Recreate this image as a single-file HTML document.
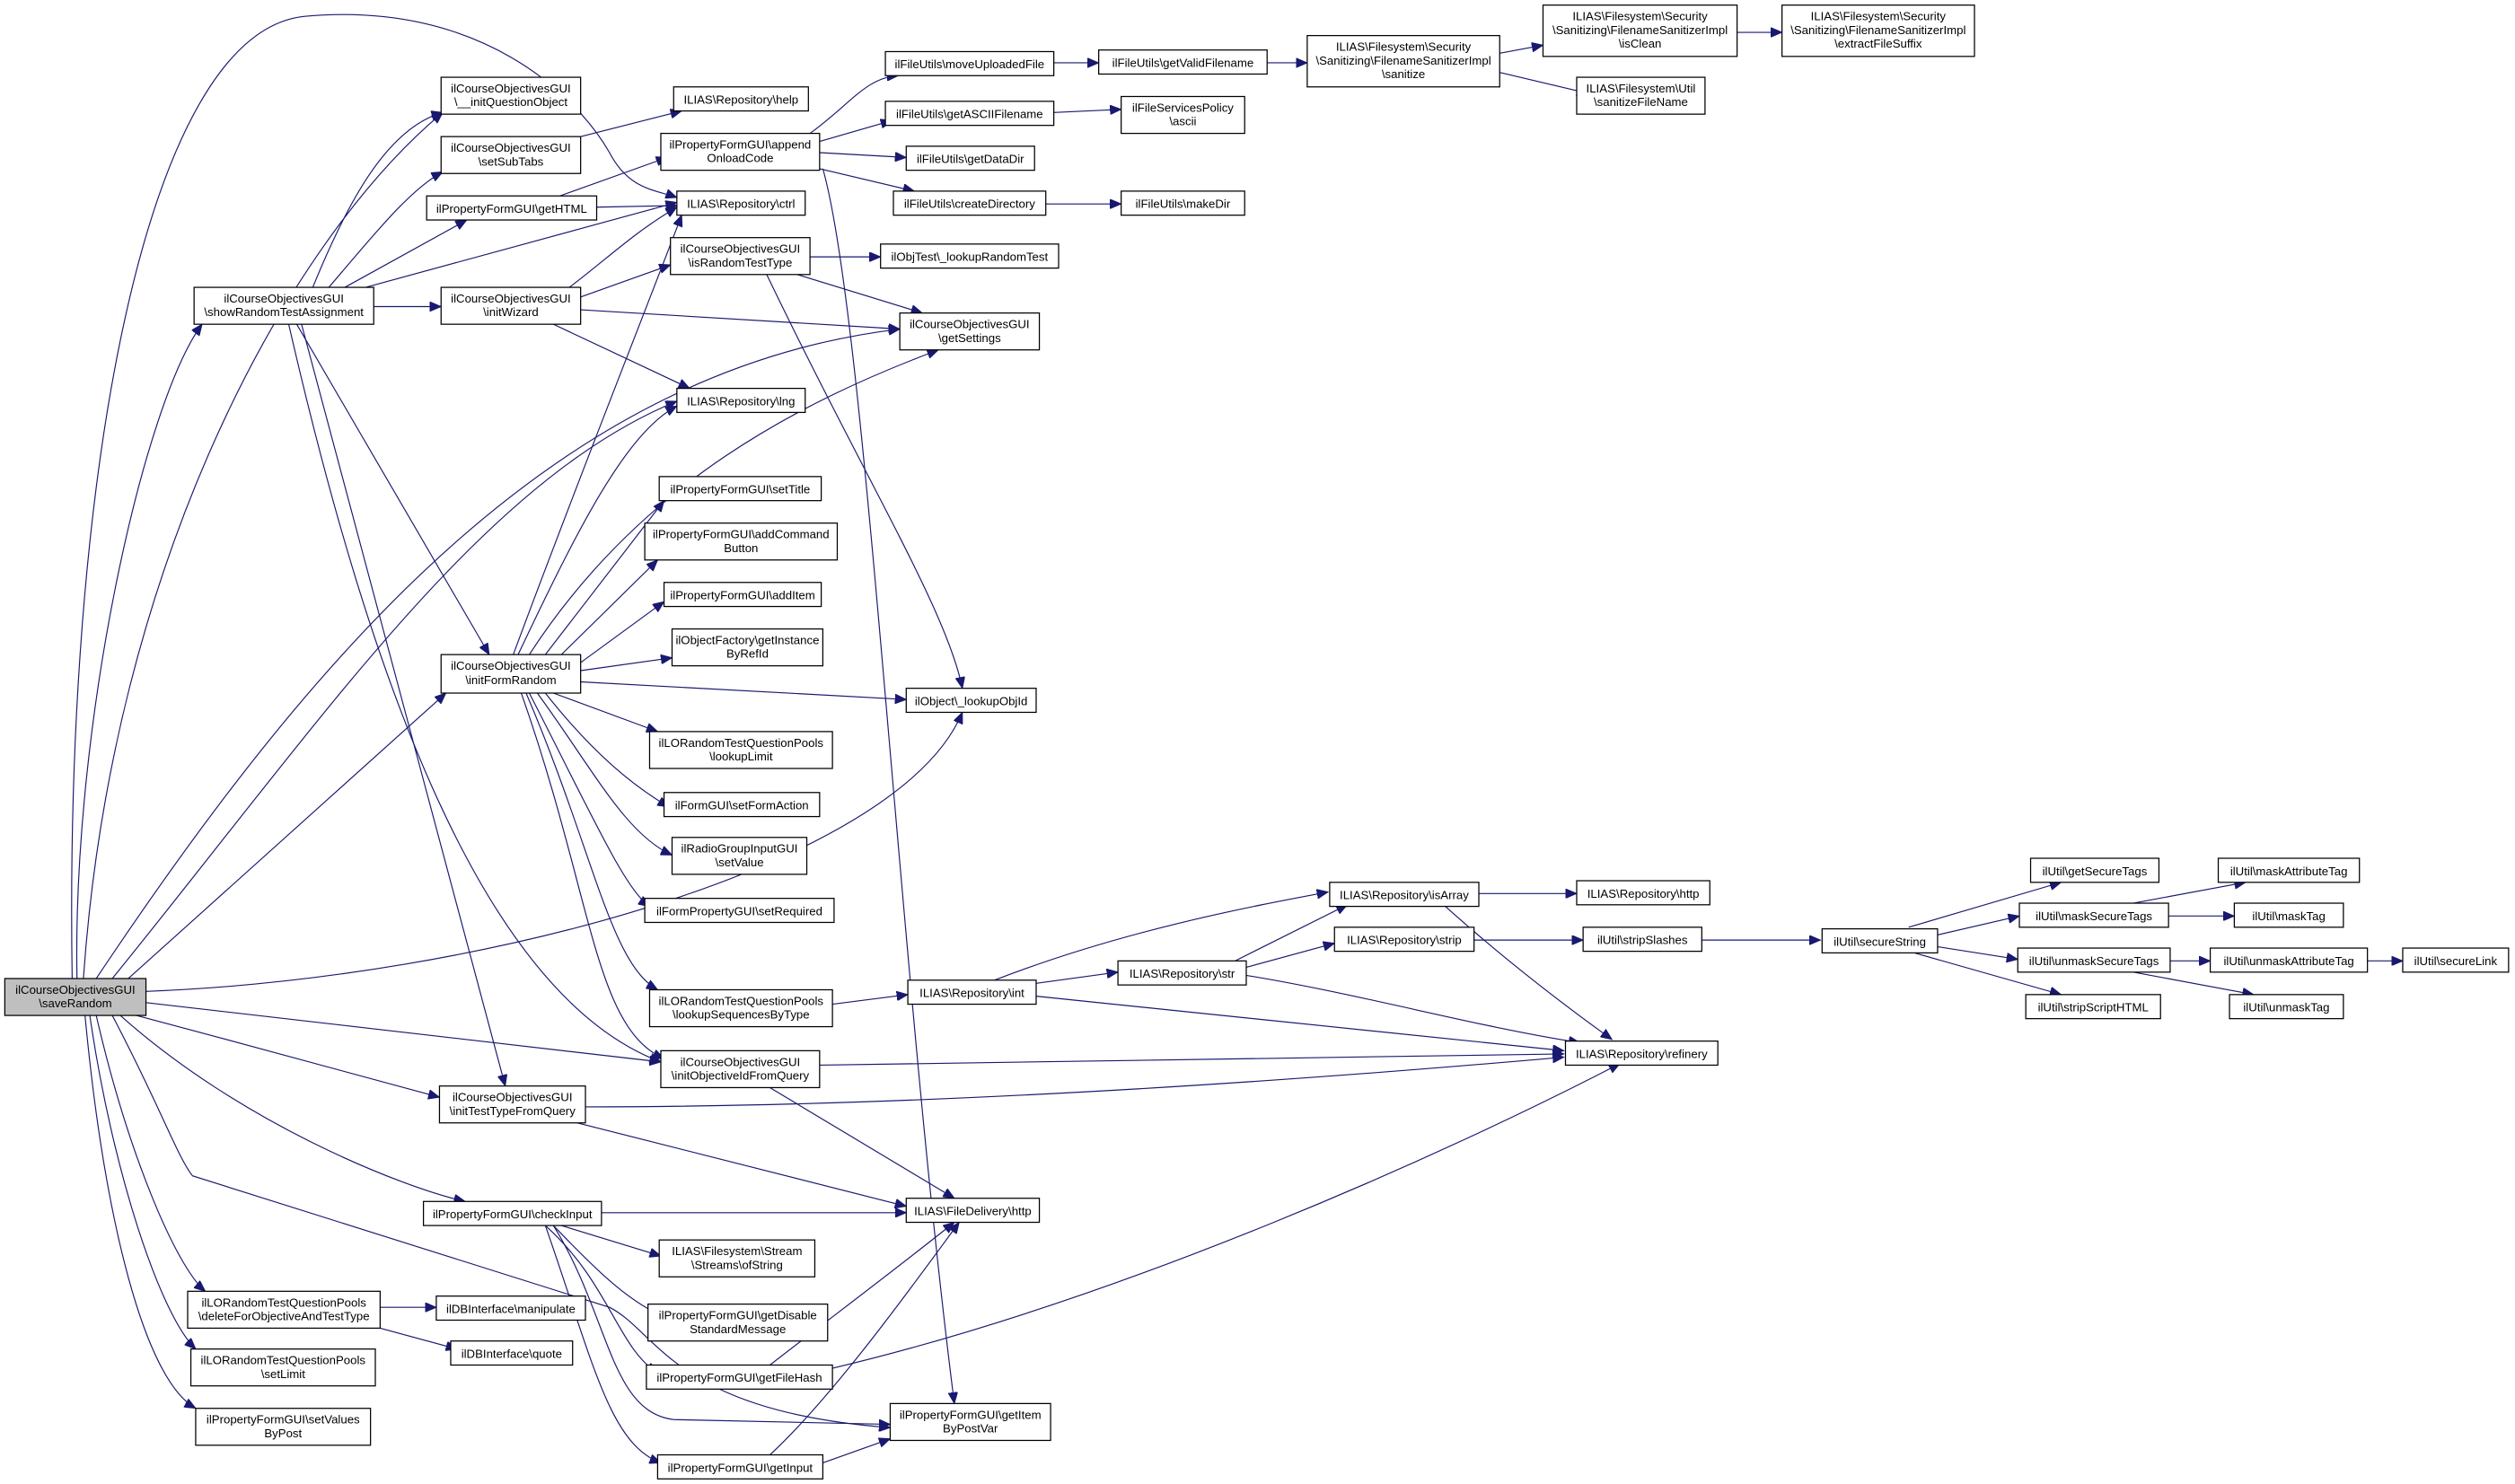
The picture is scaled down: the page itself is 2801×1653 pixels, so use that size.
<!DOCTYPE html>
<html><head><meta charset="utf-8"><style>
html,body{margin:0;padding:0;background:#fff;}
svg{display:block}
text{font-family:"Liberation Sans",Arial,sans-serif;font-size:7.4px;fill:#000;text-anchor:middle}
rect{fill:#fff;stroke:#000;stroke-width:0.7}
path{fill:none;stroke:#191970;stroke-width:0.65}
</style></head><body>
<svg width="2801" height="1653" viewBox="0 0 1568 925" xmlns="http://www.w3.org/2000/svg">
<defs><marker id="a" markerUnits="userSpaceOnUse" markerWidth="8" markerHeight="6" refX="7" refY="3" orient="auto"><path d="M0,0 L7,3 L0,6 Z" style="fill:#191970;stroke:#191970;stroke-width:0.5"/></marker></defs>
<g marker-end="url(#a)">
<path d="M48,610 C45,450 90,250 126,202"/>
<path d="M52,610 C70,350 180,150 276,70"/>
<path d="M45,610 C40,300 90,20 190,10 C300,0 360,60 380,95 C392,118 408,118 422,123"/>
<path d="M60,610 C200,400 350,230 561,205"/>
<path d="M70,610 C200,450 300,300 422,250"/>
<path d="M80,610 L278,432"/>
<path d="M91,618 C300,610 560,540 600,444"/>
<path d="M91,625 L412,662"/>
<path d="M85,633 C150,650 220,670 274,684"/>
<path d="M75,633 C150,700 250,740 290,749"/>
<path d="M70,633 C100,690 110,720 120,733 L380,815 C410,830 420,880 555,890"/>
<path d="M60,633 C80,720 110,790 128,805"/>
<path d="M56,633 C70,730 100,820 122,841"/>
<path d="M53,633 C65,760 90,860 122,878"/>
<path d="M195,179 C215,130 240,80 276,70"/>
<path d="M205,179 C230,150 255,118 276,107"/>
<path d="M215,179 L291,137"/>
<path d="M228,179 L422,126"/>
<path d="M233,191 L275,191"/>
<path d="M185,202 L305,408"/>
<path d="M180,202 C230,420 300,620 412,662"/>
<path d="M188,202 L315,677"/>
<path d="M362,85 L425,69"/>
<path d="M349,122 L416,98"/>
<path d="M372,129 L422,128"/>
<path d="M505,83 C530,65 540,48 560,47"/>
<path d="M511,88 L556,75"/>
<path d="M511,95 L565,98"/>
<path d="M511,105 L570,119"/>
<path d="M513,105 C540,200 560,600 595,875"/>
<path d="M657,39 L685,39"/>
<path d="M790,39 L815,39"/>
<path d="M935,33 L962,28"/>
<path d="M1083,20 L1111,20"/>
<path d="M935,45 L990,58"/>
<path d="M657,70 L699,68"/>
<path d="M652,127 L699,127"/>
<path d="M355,179 C380,160 395,145 422,129"/>
<path d="M362,185 L418,165"/>
<path d="M362,193 L561,205"/>
<path d="M345,202 L430,242"/>
<path d="M505,160 L549,160"/>
<path d="M497,171 L575,195"/>
<path d="M478,171 C540,300 590,380 600,429"/>
<path d="M320,408 C360,300 400,200 425,134"/>
<path d="M323,408 C360,330 390,270 422,253"/>
<path d="M330,408 C400,300 500,250 585,218"/>
<path d="M340,408 L414,312"/>
<path d="M350,408 L410,349"/>
<path d="M362,413 L414,375"/>
<path d="M362,418 L419,410"/>
<path d="M362,425 L565,436"/>
<path d="M345,432 L410,456"/>
<path d="M340,432 C370,470 395,490 417,503"/>
<path d="M335,432 C370,480 390,520 419,533"/>
<path d="M330,432 C370,510 390,555 405,565"/>
<path d="M328,432 C370,530 380,600 410,617"/>
<path d="M325,432 C370,560 370,640 414,660"/>
<path d="M519,626 L566,620"/>
<path d="M646,613 L697,606"/>
<path d="M620,611 C700,580 780,565 828,556"/>
<path d="M646,621 L975,655"/>
<path d="M770,599 L840,564"/>
<path d="M777,603 L832,588"/>
<path d="M777,608 C850,620 920,640 985,650"/>
<path d="M921,557 L983,557"/>
<path d="M900,564 C940,600 980,630 1005,648"/>
<path d="M919,586 L987,586"/>
<path d="M1061,586 L1135,586"/>
<path d="M1190,578 L1285,550"/>
<path d="M1207,583 L1259,571"/>
<path d="M1207,590 L1258,598"/>
<path d="M1190,593 L1285,620"/>
<path d="M1330,563 L1400,550"/>
<path d="M1352,571 L1393,571"/>
<path d="M1353,599 L1378,599"/>
<path d="M1330,606 L1405,620"/>
<path d="M1476,599 L1498,599"/>
<path d="M511,664 L975,657"/>
<path d="M480,678 L595,747"/>
<path d="M365,690 C600,690 850,670 975,659"/>
<path d="M360,700 L565,752"/>
<path d="M375,756 L565,756"/>
<path d="M350,764 L412,783"/>
<path d="M345,764 C370,790 390,810 412,820"/>
<path d="M340,764 C380,800 385,840 410,856"/>
<path d="M345,764 C380,820 380,880 420,885 L555,888"/>
<path d="M340,764 C370,850 380,900 412,912"/>
<path d="M480,851 C520,820 560,790 595,762"/>
<path d="M519,853 C700,810 900,720 1010,663"/>
<path d="M480,907 C520,870 570,800 598,762"/>
<path d="M513,912 L555,897"/>
<path d="M237,815 L272,815"/>
<path d="M237,828 L285,841"/>
</g>
<g>
<rect x="3" y="610" width="88" height="23" style="fill:#bfbfbf"/><text x="47" y="619.5">ilCourseObjectivesGUI</text><text x="47" y="628">\saveRandom</text>
<rect x="121" y="179" width="112" height="23"/><text x="177" y="188.5">ilCourseObjectivesGUI</text><text x="177" y="197">\showRandomTestAssignment</text>
<rect x="275" y="48" width="87" height="23"/><text x="318.5" y="57.5">ilCourseObjectivesGUI</text><text x="318.5" y="66">\__initQuestionObject</text>
<rect x="275" y="85" width="87" height="23"/><text x="318.5" y="94.5">ilCourseObjectivesGUI</text><text x="318.5" y="103">\setSubTabs</text>
<rect x="266" y="122" width="106" height="15"/><text x="319" y="132.5">ilPropertyFormGUI\getHTML</text>
<rect x="275" y="179" width="87" height="23"/><text x="318.5" y="188.5">ilCourseObjectivesGUI</text><text x="318.5" y="197">\initWizard</text>
<rect x="420" y="54" width="84" height="15"/><text x="462" y="64.5">ILIAS\Repository\help</text>
<rect x="412" y="83" width="99" height="23"/><text x="461.5" y="92.5">ilPropertyFormGUI\append</text><text x="461.5" y="101">OnloadCode</text>
<rect x="422" y="119" width="80" height="15"/><text x="462" y="129.5">ILIAS\Repository\ctrl</text>
<rect x="418" y="148" width="87" height="23"/><text x="461.5" y="157.5">ilCourseObjectivesGUI</text><text x="461.5" y="166">\isRandomTestType</text>
<rect x="422" y="242" width="80" height="15"/><text x="462" y="252.5">ILIAS\Repository\lng</text>
<rect x="552" y="32" width="105" height="15"/><text x="604.5" y="42.5">ilFileUtils\moveUploadedFile</text>
<rect x="552" y="63" width="105" height="15"/><text x="604.5" y="73.5">ilFileUtils\getASCIIFilename</text>
<rect x="565" y="91" width="80" height="15"/><text x="605" y="101.5">ilFileUtils\getDataDir</text>
<rect x="557" y="119" width="95" height="15"/><text x="604.5" y="129.5">ilFileUtils\createDirectory</text>
<rect x="549" y="152" width="111" height="15"/><text x="604.5" y="162.5">ilObjTest\_lookupRandomTest</text>
<rect x="561" y="195" width="87" height="23"/><text x="604.5" y="204.5">ilCourseObjectivesGUI</text><text x="604.5" y="213">\getSettings</text>
<rect x="685" y="31" width="105" height="15"/><text x="737.5" y="41.5">ilFileUtils\getValidFilename</text>
<rect x="815" y="22" width="120" height="32"/><text x="875" y="31.5">ILIAS\Filesystem\Security</text><text x="875" y="40">\Sanitizing\FilenameSanitizerImpl</text><text x="875" y="48.5">\sanitize</text>
<rect x="962" y="3" width="121" height="32"/><text x="1022.5" y="12.5">ILIAS\Filesystem\Security</text><text x="1022.5" y="21">\Sanitizing\FilenameSanitizerImpl</text><text x="1022.5" y="29.5">\isClean</text>
<rect x="1111" y="3" width="120" height="32"/><text x="1171" y="12.5">ILIAS\Filesystem\Security</text><text x="1171" y="21">\Sanitizing\FilenameSanitizerImpl</text><text x="1171" y="29.5">\extractFileSuffix</text>
<rect x="983" y="48" width="80" height="23"/><text x="1023" y="57.5">ILIAS\Filesystem\Util</text><text x="1023" y="66">\sanitizeFileName</text>
<rect x="699" y="60" width="77" height="23"/><text x="737.5" y="69.5">ilFileServicesPolicy</text><text x="737.5" y="78">\ascii</text>
<rect x="699" y="119" width="77" height="15"/><text x="737.5" y="129.5">ilFileUtils\makeDir</text>
<rect x="411" y="297" width="101" height="15"/><text x="461.5" y="307.5">ilPropertyFormGUI\setTitle</text>
<rect x="402" y="326" width="120" height="23"/><text x="462" y="335.5">ilPropertyFormGUI\addCommand</text><text x="462" y="344">Button</text>
<rect x="414" y="363" width="98" height="15"/><text x="463" y="373.5">ilPropertyFormGUI\addItem</text>
<rect x="419" y="392" width="94" height="23"/><text x="466" y="401.5">ilObjectFactory\getInstance</text><text x="466" y="410">ByRefId</text>
<rect x="275" y="408" width="87" height="24"/><text x="318.5" y="417.5">ilCourseObjectivesGUI</text><text x="318.5" y="426.5">\initFormRandom</text>
<rect x="565" y="429" width="81" height="15"/><text x="605.5" y="439.5">ilObject\_lookupObjId</text>
<rect x="405" y="456" width="114" height="23"/><text x="462" y="465.5">ilLORandomTestQuestionPools</text><text x="462" y="474">\lookupLimit</text>
<rect x="414" y="494" width="97" height="15"/><text x="462.5" y="504.5">ilFormGUI\setFormAction</text>
<rect x="419" y="522" width="84" height="23"/><text x="461" y="531.5">ilRadioGroupInputGUI</text><text x="461" y="540">\setValue</text>
<rect x="402" y="560" width="118" height="15"/><text x="461" y="570.5">ilFormPropertyGUI\setRequired</text>
<rect x="405" y="617" width="114" height="23"/><text x="462" y="626.5">ilLORandomTestQuestionPools</text><text x="462" y="635">\lookupSequencesByType</text>
<rect x="412" y="655" width="99" height="23"/><text x="461.5" y="664.5">ilCourseObjectivesGUI</text><text x="461.5" y="673">\initObjectiveIdFromQuery</text>
<rect x="274" y="677" width="91" height="23"/><text x="319.5" y="686.5">ilCourseObjectivesGUI</text><text x="319.5" y="695">\initTestTypeFromQuery</text>
<rect x="264" y="749" width="111" height="15"/><text x="319.5" y="759.5">ilPropertyFormGUI\checkInput</text>
<rect x="565" y="747" width="83" height="15"/><text x="606.5" y="757.5">ILIAS\FileDelivery\http</text>
<rect x="411" y="773" width="97" height="23"/><text x="459.5" y="782.5">ILIAS\Filesystem\Stream</text><text x="459.5" y="791">\Streams\ofString</text>
<rect x="404" y="813" width="112" height="23"/><text x="460" y="822.5">ilPropertyFormGUI\getDisable</text><text x="460" y="831">StandardMessage</text>
<rect x="403" y="851" width="116" height="15"/><text x="461" y="861.5">ilPropertyFormGUI\getFileHash</text>
<rect x="555" y="875" width="100" height="23"/><text x="605" y="884.5">ilPropertyFormGUI\getItem</text><text x="605" y="893">ByPostVar</text>
<rect x="410" y="907" width="103" height="15"/><text x="461.5" y="917.5">ilPropertyFormGUI\getInput</text>
<rect x="566" y="611" width="80" height="15"/><text x="606" y="621.5">ILIAS\Repository\int</text>
<rect x="697" y="599" width="80" height="15"/><text x="737" y="609.5">ILIAS\Repository\str</text>
<rect x="829" y="550" width="93" height="15"/><text x="875.5" y="560.5">ILIAS\Repository\isArray</text>
<rect x="983" y="549" width="83" height="15"/><text x="1024.5" y="559.5">ILIAS\Repository\http</text>
<rect x="832" y="578" width="87" height="15"/><text x="875.5" y="588.5">ILIAS\Repository\strip</text>
<rect x="987" y="578" width="74" height="15"/><text x="1024" y="588.5">ilUtil\stripSlashes</text>
<rect x="976" y="649" width="95" height="15"/><text x="1023.5" y="659.5">ILIAS\Repository\refinery</text>
<rect x="1136" y="579" width="72" height="15"/><text x="1172" y="589.5">ilUtil\secureString</text>
<rect x="1266" y="535" width="80" height="15"/><text x="1306" y="545.5">ilUtil\getSecureTags</text>
<rect x="1259" y="563" width="93" height="15"/><text x="1305.5" y="573.5">ilUtil\maskSecureTags</text>
<rect x="1258" y="591" width="95" height="15"/><text x="1305.5" y="601.5">ilUtil\unmaskSecureTags</text>
<rect x="1263" y="620" width="84" height="15"/><text x="1305" y="630.5">ilUtil\stripScriptHTML</text>
<rect x="1383" y="535" width="88" height="15"/><text x="1427" y="545.5">ilUtil\maskAttributeTag</text>
<rect x="1393" y="563" width="68" height="15"/><text x="1427" y="573.5">ilUtil\maskTag</text>
<rect x="1378" y="591" width="98" height="15"/><text x="1427" y="601.5">ilUtil\unmaskAttributeTag</text>
<rect x="1390" y="620" width="71" height="15"/><text x="1425.5" y="630.5">ilUtil\unmaskTag</text>
<rect x="1498" y="591" width="66" height="15"/><text x="1531" y="601.5">ilUtil\secureLink</text>
<rect x="117" y="805" width="120" height="23"/><text x="177" y="814.5">ilLORandomTestQuestionPools</text><text x="177" y="823">\deleteForObjectiveAndTestType</text>
<rect x="272" y="808" width="93" height="15"/><text x="318.5" y="818.5">ilDBInterface\manipulate</text>
<rect x="281" y="836" width="76" height="15"/><text x="319" y="846.5">ilDBInterface\quote</text>
<rect x="119" y="841" width="115" height="23"/><text x="176.5" y="850.5">ilLORandomTestQuestionPools</text><text x="176.5" y="859">\setLimit</text>
<rect x="122" y="878" width="109" height="23"/><text x="176.5" y="887.5">ilPropertyFormGUI\setValues</text><text x="176.5" y="896">ByPost</text>
</g>
</svg>
</body></html>
